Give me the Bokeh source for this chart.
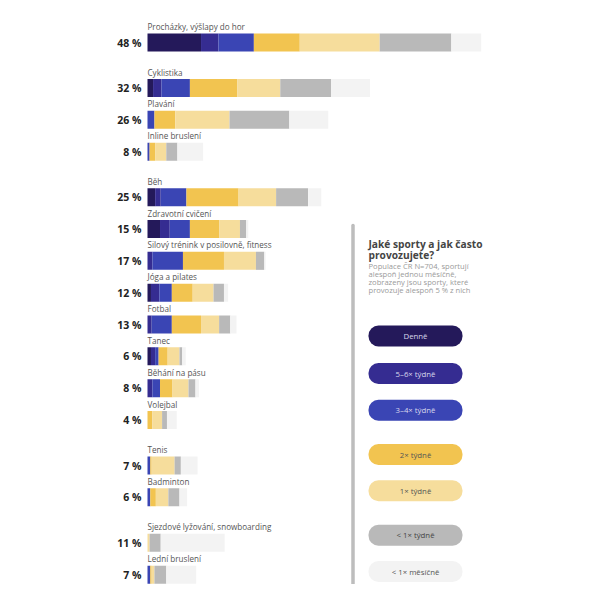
from bokeh.plotting import figure
from bokeh.models import ColumnDataSource, Range1d, LabelSet, BoxAnnotation
from bokeh.core.properties import value
from bokeh.embed import file_html
from bokeh.resources import INLINE

# sports, top to bottom, and the block each one sits in
sports = ["Procházky, výšlapy do hor", "Cyklistika", "Plavání", "Inline bruslení",
          "Běh", "Zdravotní cvičení", "Silový trénink v posilovně, fitness", "Jóga a pilates",
          "Fotbal", "Tanec", "Běhání na pásu", "Volejbal",
          "Tenis", "Badminton",
          "Sjezdové lyžování, snowboarding", "Lední bruslení"]
blocks = ["a", "b", "b", "b",
          "c", "c", "c", "c", "c", "c", "c", "c",
          "d", "d",
          "e", "e"]
pct_labels = ["48 %", "32 %", "26 %", "8 %",
              "25 %", "15 %", "17 %", "12 %", "13 %", "6 %", "8 %", "4 %",
              "7 %", "6 %",
              "11 %", "7 %"]

# share of population (%) by frequency
denne    = [7.7, 0.8, 0.0, 0.0, 1.1, 1.8, 0.0, 0.5, 0.0, 0.5, 0.0, 0.0, 0.0, 0.0, 0.0, 0.0]
t56      = [2.5, 1.2, 0.0, 0.0, 0.8, 1.4, 0.7, 1.2, 0.6, 0.6, 0.7, 0.0, 0.0, 0.0, 0.0, 0.0]
t34      = [5.1, 4.1, 1.0, 0.3, 3.7, 2.9, 4.4, 1.8, 2.9, 0.5, 1.1, 0.0, 0.4, 0.4, 0.0, 0.4]
t2       = [6.6, 6.8, 3.0, 0.8, 7.5, 4.2, 5.9, 3.0, 4.2, 1.3, 1.8, 0.7, 0.2, 0.8, 0.0, 0.2]
t1       = [11.5, 6.2, 7.8, 1.6, 5.4, 3.0, 4.6, 3.0, 2.6, 1.7, 2.3, 1.4, 3.3, 1.8, 0.3, 0.4]
lt_week  = [10.3, 7.3, 8.6, 1.6, 4.6, 0.9, 1.2, 1.5, 1.6, 0.4, 1.0, 0.7, 0.9, 1.6, 1.6, 1.7]
lt_month = [4.3, 5.6, 5.6, 3.7, 1.9, 0.3, 0.2, 0.6, 0.9, 0.5, 0.5, 1.4, 2.4, 1.1, 9.2, 4.3]

freq_keys = ["denne", "t56", "t34", "t2", "t1", "lt_week", "lt_month"]
freq_labels = ["Denně", "5–6× týdně", "3–4× týdně", "2× týdně", "1× týdně", "< 1× týdně", "< 1× měsíčně"]
colors = ["#24195a", "#352c91", "#3a45b4", "#f2c450", "#f6dd9c", "#b9b9b9", "#f3f3f3"]
text_colors = ["#d8d8ec", "#d8d8ec", "#d8d8ec", "#555555", "#555555", "#444444", "#555555"]

title_lines = ["Jaké sporty a jak často", "provozujete?"]
sub_lines = ["Populace ČR N=704, sportují", "alespoň jednou měsíčně,",
             "zobrazeny jsou sporty, které", "provozuje alespoň 5 % z nich"]

FONT = "Open Sans"
W, H = 584, 584
ROW = 31.83      # px per row
GAP = 0.43       # extra rows between blocks
FIRST = 42       # px from top to first bar centre
ZERO_X = 147     # px where bars start
PX_PER_PCT = 6.952

# row index, going down, with a gap whenever the block changes
rows = []
k = 0.0
for i, b in enumerate(blocks):
    if i > 0 and b != blocks[i - 1]:
        k += GAP
    rows.append(-k)
    k += 1

source = ColumnDataSource(data=dict(
    y=rows, sport=sports, pct=pct_labels,
    denne=denne, t56=t56, t34=t34, t2=t2, t1=t1, lt_week=lt_week, lt_month=lt_month,
    zero=[0] * len(sports),
))

p = figure(width=W, height=H, output_backend="svg", toolbar_location=None, tools="",
           x_range=Range1d(-ZERO_X / PX_PER_PCT, (W - ZERO_X) / PX_PER_PCT),
           y_range=Range1d(-(H - FIRST) / ROW, FIRST / ROW),
           x_axis_location=None, y_axis_location=None,
           min_border=0)
p.grid.grid_line_color = None
p.outline_line_color = None
p.background_fill_color = "white"

p.hbar_stack(freq_keys, y="y", height=18 / ROW, color=colors, line_color=None, source=source)

names = LabelSet(x="zero", y="y", text="sport", source=source, y_offset=12.5,
                 text_font=value(FONT), text_font_size="8.1px", text_color="#555555",
                 text_baseline="alphabetic", text_align="left")
pcts = LabelSet(x="zero", y="y", text="pct", source=source, x_offset=-6,
                text_font=value(FONT), text_font_size="10.5px", text_font_style="bold",
                text_color="#222222", text_baseline="middle", text_align="right")
p.add_layout(names)
p.add_layout(pcts)

# pixel-like ranges for the legend panel (y down)
p.extra_x_ranges = {"px": Range1d(0, W)}
p.extra_y_ranges = {"px": Range1d(H, 0)}

p.line([352.5, 352.5], [225, 583], x_range_name="px", y_range_name="px",
       line_color="#bdbdbd", line_width=3.5, line_cap="round")

p.text([368] * len(title_lines), [243 + 11 * i for i in range(len(title_lines))], text=title_lines,
       x_range_name="px", y_range_name="px", text_font=value(FONT), text_font_size="10.2px",
       text_font_style="bold", text_color="#444444", text_baseline="alphabetic")
p.text([368] * len(sub_lines), [265 + 8.2 * i for i in range(len(sub_lines))], text=sub_lines,
       x_range_name="px", y_range_name="px", text_font=value(FONT), text_font_size="7.6px",
       text_color="#9a9a9a", text_baseline="alphabetic")

pill_centres = [335.5, 373, 409.7, 454, 490.3, 534.7, 571]
for c, fill in zip(pill_centres, colors):
    p.add_layout(BoxAnnotation(left=368, right=462, top=c - 10.5, bottom=c + 10.5,
                               x_range_name="px", y_range_name="px",
                               fill_color=fill, fill_alpha=1, line_color=None,
                               border_radius=10, level="underlay"))
p.text([415] * len(freq_labels), pill_centres, text=freq_labels,
       x_range_name="px", y_range_name="px", text_font=value(FONT), text_font_size="7.8px",
       text_color=text_colors, text_align="center", text_baseline="middle")

open("out.html", "w").write(file_html(p, INLINE))
